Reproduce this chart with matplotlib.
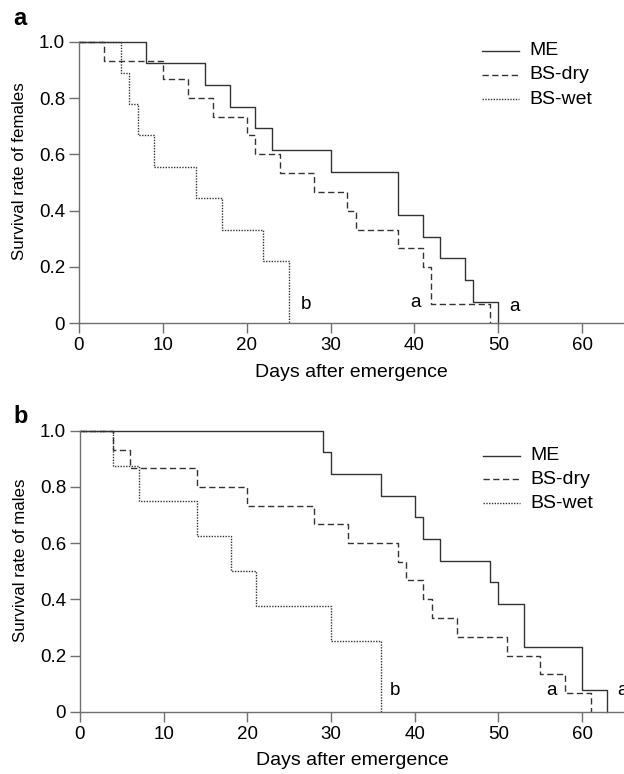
import matplotlib
matplotlib.use('Agg')
import matplotlib.pyplot as plt

plt.rcParams['font.family'] = ['Liberation Sans', 'DejaVu Sans']

# females (panel a): day of each drop, survival after the drop
f_me_days = [8, 15, 18, 21, 23, 30, 38, 41, 43, 46, 47, 50]
f_me_surv = [0.923, 0.846, 0.769, 0.692, 0.615, 0.538, 0.385, 0.308, 0.231, 0.154, 0.077, 0.0]
f_dry_days = [3, 10, 13, 16, 20, 21, 24, 28, 32, 33, 38, 41, 42, 49]
f_dry_surv = [0.933, 0.867, 0.8, 0.733, 0.667, 0.6, 0.533, 0.467, 0.4, 0.333, 0.267, 0.2, 0.067, 0.0]
f_wet_days = [5, 6, 7, 9, 14, 17, 22, 25]
f_wet_surv = [0.889, 0.778, 0.667, 0.556, 0.444, 0.333, 0.222, 0.0]

# males (panel b)
m_me_days = [29, 30, 36, 40, 41, 43, 49, 50, 53, 60, 63]
m_me_surv = [0.923, 0.846, 0.769, 0.692, 0.615, 0.538, 0.462, 0.385, 0.231, 0.077, 0.0]
m_dry_days = [4, 6, 14, 20, 28, 32, 38, 39, 41, 42, 45, 51, 55, 58, 61]
m_dry_surv = [0.933, 0.867, 0.8, 0.733, 0.667, 0.6, 0.533, 0.467, 0.4, 0.333, 0.267, 0.2, 0.133, 0.067, 0.0]
m_wet_days = [4, 7, 14, 18, 21, 30, 36]
m_wet_surv = [0.875, 0.75, 0.625, 0.5, 0.375, 0.25, 0.0]

labels = ['ME', 'BS-dry', 'BS-wet']
f_letters = [(27.1, 0.068, 'b'), (40.1, 0.073, 'a'), (52.0, 0.061, 'a')]
m_letters = [(37.6, 0.077, 'b'), (56.3, 0.077, 'a'), (64.8, 0.077, 'a')]

xticks = [0, 10, 20, 30, 40, 50, 60]
yticks = [0, 0.2, 0.4, 0.6, 0.8, 1.0]
ytick_labels = ['0', '0.2', '0.4', '0.6', '0.8', '1.0']

line_col = '#333333'
axis_col = '#707070'
styles = ['-', (0, (4.5, 2.5)), (0, (1, 1))]

fig = plt.figure(figsize=(6.24, 7.74), dpi=100)
ax_a = fig.add_axes([0.1266, 0.5823, 0.8734, 0.3638])
ax_b = fig.add_axes([0.1282, 0.0805, 0.8718, 0.3630])


def draw(ax, series, letters, ylabel, leg_x, leg_rows):
    for (days, surv), lab, ls in zip(series, labels, styles):
        ax.step([0] + days, [1.0] + surv, where='post', color=line_col,
                lw=1.0, linestyle=ls, clip_on=False)
    for x, y, t in letters:
        ax.text(x, y, t, fontsize=13.5, ha='center', va='center', clip_on=False)
    ax.set_xlim(0, 65)
    ax.set_ylim(0, 1.0)
    ax.set_xticks(xticks)
    ax.set_yticks(yticks)
    ax.set_yticklabels(ytick_labels)
    for s in ['top', 'right']:
        ax.spines[s].set_visible(False)
    for s in ['left', 'bottom']:
        ax.spines[s].set_color(axis_col)
        ax.spines[s].set_linewidth(1.0)
    ax.tick_params(direction='out', length=7, width=1.0, color=axis_col,
                   labelsize=13.5, pad=3)
    ax.set_ylabel(ylabel, fontsize=12.2)
    ax.set_xlabel('Days after emergence', fontsize=14)
    ax.xaxis.set_label_coords(0.5, -0.145)
    ax.yaxis.set_label_coords(-0.095, 0.54)
    # legend drawn by hand to sit where the reference has it
    for lab, ls, y in zip(labels, styles, leg_rows):
        ax.plot([leg_x, leg_x + 0.069], [y, y], transform=ax.transAxes,
                color=line_col, lw=1.0, linestyle=ls, clip_on=False)
        ax.text(leg_x + 0.088, y, lab, transform=ax.transAxes, fontsize=14,
                ha='left', va='center')


draw(ax_a, [(f_me_days, f_me_surv), (f_dry_days, f_dry_surv), (f_wet_days, f_wet_surv)],
     f_letters, 'Survival rate of females', 0.739, [0.968, 0.882, 0.795])
draw(ax_b, [(m_me_days, m_me_surv), (m_dry_days, m_dry_surv), (m_wet_days, m_wet_surv)],
     m_letters, 'Survival rate of males', 0.740, [0.911, 0.827, 0.742])

fig.text(13 / 624, 1 - 25 / 774, 'a', fontsize=17, fontweight='bold',
         ha='left', va='baseline')
fig.text(13 / 624, 1 - 423 / 774, 'b', fontsize=17, fontweight='bold',
         ha='left', va='baseline')

fig.savefig('out.png', dpi=100)
